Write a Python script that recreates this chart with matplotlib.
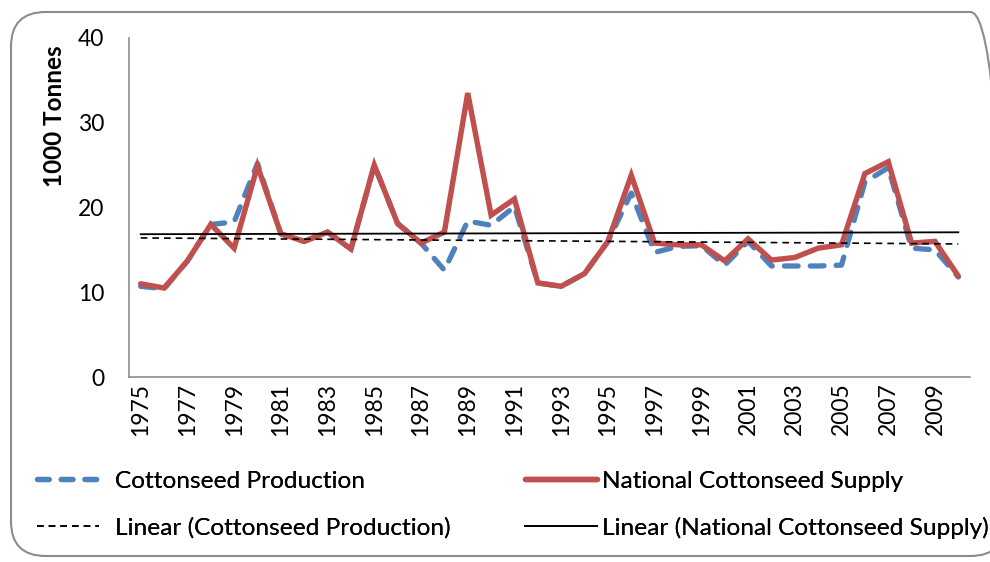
import numpy as np
import matplotlib
matplotlib.use("Agg")
import matplotlib.pyplot as plt
from matplotlib.patches import FancyBboxPatch
from matplotlib.lines import Line2D

years = list(range(1975, 2011))
production = [10.7, 10.4, 13.7, 18.0, 18.3, 25.2, 16.9, 16.0, 17.1, 15.1,
              25.0, 18.1, 15.8, 12.6, 18.4, 17.9, 20.1, 11.1, 10.7, 12.2,
              16.0, 21.7, 14.7, 15.4, 15.5, 13.2, 16.0, 13.1, 13.1, 13.1,
              13.2, 23.0, 24.7, 15.2, 15.0, 11.8]
supply = [11.0, 10.5, 13.7, 18.0, 15.2, 24.9, 16.9, 16.0, 17.1, 15.1,
          25.0, 18.1, 15.8, 17.1, 33.5, 19.1, 21.0, 11.1, 10.7, 12.2,
          16.0, 23.8, 15.8, 15.6, 15.6, 13.7, 16.3, 13.8, 14.1, 15.2,
          15.6, 24.0, 25.4, 15.8, 16.0, 11.9]
tick_labels = [str(y) for y in years[::2]]
y_ticks = [0, 10, 20, 30, 40]

plt.rcParams['font.family'] = ['Lato', 'DejaVu Sans']

W, H = 990, 562
fig = plt.figure(figsize=(W / 100, H / 100), dpi=100)

# rounded chart border
box = FancyBboxPatch((11 / W, 6 / H), (1005 - 11) / W, (550 - 6) / H,
                     boxstyle="round,pad=0,rounding_size=0.035",
                     transform=fig.transFigure, fill=False,
                     edgecolor="#8c8c8c", linewidth=1.5, mutation_aspect=W / H)
fig.patches.append(box)

ax = fig.add_axes([129 / W, 1 - 377 / H, (970 - 129) / W, (377 - 38) / H])
x = np.arange(len(years))

BLUE, RED = "#4F81BD", "#C0504D"
dash_blue = (0, (2.6, 2.3))
dash_trend = (0, (4, 3))

ax.plot(x, production, color=BLUE, lw=3.8, ls=dash_blue,
        dash_capstyle="round", zorder=3)
ax.plot(x, supply, color=RED, lw=3.9, solid_capstyle="round",
        solid_joinstyle="miter", zorder=4)

cp = np.polyfit(x, production, 1)
cs = np.polyfit(x, supply, 1)
ax.plot(x, np.polyval(cp, x), color="black", lw=1.2, ls=dash_trend, zorder=5)
ax.plot(x, np.polyval(cs, x), color="black", lw=1.3, zorder=5)

ax.set_xlim(-0.5, len(years) - 0.5)
ax.set_ylim(0, 40)
ax.set_yticks(y_ticks)
ax.set_yticklabels([str(v) for v in y_ticks], fontsize=16.5)
ax.set_xticks(x[::2])
ax.set_xticklabels(tick_labels, rotation=90, fontsize=16.5)
ax.tick_params(axis="y", length=0, pad=18)
ax.tick_params(axis="x", length=0, pad=4)
for s in ["top", "right"]:
    ax.spines[s].set_visible(False)
for s in ["left", "bottom"]:
    ax.spines[s].set_color("#8c8c8c")
    ax.spines[s].set_linewidth(1.2)

fig.text(55 / W, 1 - 116 / H, "1000 Tonnes", rotation=90, fontsize=17.5,
         fontweight="bold", ha="center", va="center")

FS = 17.6
em = FS * 100 / 72
entries = [
    (Line2D([], [], color=BLUE, lw=3.8, ls=(0, (2.2, 2.3)), dash_capstyle="round"),
     "Cottonseed Production", 37, 481, 62, 16),
    (Line2D([], [], color=RED, lw=3.9, solid_capstyle="round"),
     "National Cottonseed Supply", 525, 481, 72, 5),
    (Line2D([], [], color="black", lw=1.2, ls=dash_trend),
     "Linear (Cottonseed Production)", 37, 528, 62, 16),
    (Line2D([], [], color="black", lw=1.3),
     "Linear (National Cottonseed Supply)", 525, 528, 72, 5),
]
for h, lab, lx, ly, hl, tp in entries:
    leg = fig.legend([h], [lab], loc="center left",
                     bbox_to_anchor=(lx / W, 1 - ly / H), frameon=False,
                     fontsize=FS, handlelength=hl / em, handletextpad=tp / em,
                     borderpad=0, borderaxespad=0)
    fig.add_artist(leg)

fig.savefig("out.png", dpi=100)
